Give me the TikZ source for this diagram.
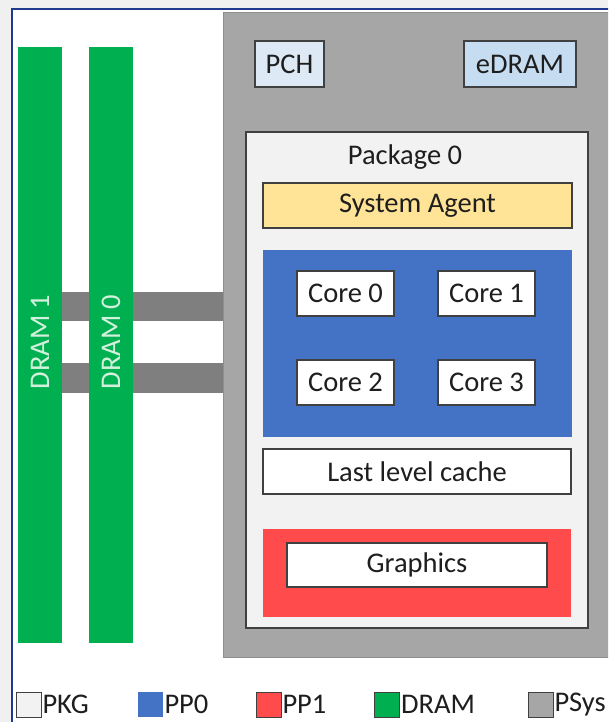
\documentclass[tikz,border=0pt]{standalone}
\usepackage{fontspec}
\setmainfont{Carlito}
\definecolor{outbg}{HTML}{F0F0F0}
\definecolor{framec}{HTML}{1F3A8F}
\definecolor{psysc}{HTML}{A6A6A6}
\definecolor{psysb}{HTML}{8E8E8E}
\definecolor{pkgc}{HTML}{F2F2F2}
\definecolor{edgec}{HTML}{404040}
\definecolor{txtc}{HTML}{1E1E1E}
\definecolor{pchc}{HTML}{DDEAF6}
\definecolor{edramc}{HTML}{C6DCF1}
\definecolor{sac}{HTML}{FFE396}
\definecolor{ppzero}{HTML}{4472C4}
\definecolor{ppone}{HTML}{FF4B4B}
\definecolor{dramc}{HTML}{00B050}
\definecolor{dramtxt}{HTML}{D2F0DC}
\definecolor{busc}{HTML}{7F7F7F}
\begin{document}
\begin{tikzpicture}[x=1pt,y=-1pt,
  every node/.style={inner sep=0pt,outer sep=0pt,text=txtc,font=\fontsize{28.5}{31}\selectfont},
  region/.style={draw=none,fill=#1},
  blk/.style={draw=edgec,line width=1.2pt,fill=#1},
  dram/.style={fill=dramc,draw=none,minimum width=44pt,minimum height=596pt},
  dramlabel/.style={text=dramtxt,rotate=90},
  bus/.style={draw=busc,line width=29.5pt},
  legsq/.style={draw=edgec,line width=1pt,fill=#1,minimum width=25pt,minimum height=25pt},
  leglab/.style={anchor=west}
]
\useasboundingbox (0,0) rectangle (608,722);
\clip (0,0) rectangle (608,722);
\fill[outbg] (0,0) rectangle (608,722);
\draw[framec,line width=2pt,fill=white] (12,9) rectangle (640,760);

% PSys grey area
\node[region=psysc,draw=psysb,line width=1pt,minimum width=420pt,minimum height=644pt] (psys) at (433,335) {};
\node[blk=pchc,minimum width=69pt,minimum height=46pt] (pch) at (289.5,64) {PCH};
\node[blk=edramc,minimum width=112pt,minimum height=46pt] (edram) at (520,64) {eDRAM};

% Package
\node[blk=pkgc,minimum width=342pt,minimum height=496pt] (pkg) at (417,380) {};
\node (pkgtitle) at (405,157) {Package 0};
\node[blk=sac,minimum width=309pt,minimum height=45pt] (sa) at (417.5,205.5) {System Agent};
\node[region=ppzero,minimum width=309pt,minimum height=187pt] (pp0) at (417.5,343.5) {};
\node[blk=white,minimum width=97pt,minimum height=45pt] (c0) at (345.5,293.5) {Core 0};
\node[blk=white,minimum width=97pt,minimum height=45pt] (c1) at (486.5,293.5) {Core 1};
\node[blk=white,minimum width=97pt,minimum height=45pt] (c2) at (345.5,382.5) {Core 2};
\node[blk=white,minimum width=97pt,minimum height=45pt] (c3) at (486.5,382.5) {Core 3};
\node[blk=white,minimum width=308pt,minimum height=45pt] (llc) at (417,471.5) {Last level cache};
\node[region=ppone,minimum width=308pt,minimum height=88pt] (pp1) at (417,573) {};
\node[blk=white,minimum width=260pt,minimum height=44pt] (gfx) at (417,565) {Graphics};

% DRAM
\node[dram] (dram1) at (40,345) {};
\node[dram] (dram0) at (111,345) {};
\draw[bus] (dram1.east |- 0,306.5) -- (dram0.west |- 0,306.5);
\draw[bus] (dram0.east |- 0,306.5) -- (psys.west |- 0,306.5);
\draw[bus] (dram1.east |- 0,378) -- (dram0.west |- 0,378);
\draw[bus] (dram0.east |- 0,378) -- (psys.west |- 0,378);
\node[dramlabel] (d1lab) at (40,342) {DRAM 1};
\node[dramlabel] (d0lab) at (111,342) {DRAM 0};

% Legend
\node[legsq=pkgc] (lpkg) at (29,704.5) {};
\node[leglab] (lpkgt) at ([xshift=1pt]lpkg.east) {PKG};
\node[legsq=ppzero,draw=none] (lpp0) at (150.5,704.5) {};
\node[leglab] (lpp0t) at ([xshift=1.5pt]lpp0.east) {PP0};
\node[legsq=ppone] (lpp1) at (268.5,704.5) {};
\node[leglab] (lpp1t) at ([xshift=1.5pt]lpp1.east) {PP1};
\node[legsq=dramc] (ldram) at (387,704.5) {};
\node[leglab] (ldramt) at ([xshift=1.5pt]ldram.east) {DRAM};
\node[legsq=psysc] (lpsys) at (540.5,704.5) {};
\node[leglab] (lpsyst) at ([xshift=1.5pt]lpsys.east) {PSys};
\end{tikzpicture}
\end{document}
